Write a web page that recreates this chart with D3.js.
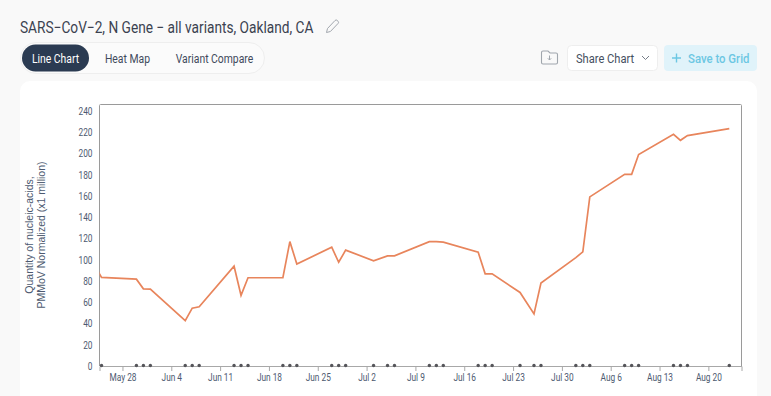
<!DOCTYPE html>
<html>
<head>
<meta charset="utf-8">
<script src="https://cdn.jsdelivr.net/npm/d3@7"></script>
<style>
  html, body { margin: 0; padding: 0; background: #f9f9f9; overflow: hidden; }
  svg { display: block; font-family: Roboto, sans-serif; }
  .axis text { font-family: Roboto, sans-serif; font-size: 10.5px; fill: #4d5a70; }
</style>
</head>
<body>
<div id="chart"></div>
<script>
const dates = ["05-24", "05-25", "05-30", "05-31", "06-01", "06-06", "06-07", "06-08", "06-13", "06-14", "06-15",
  "06-20", "06-21", "06-22", "06-27", "06-28", "06-29", "07-03", "07-05", "07-06", "07-11", "07-12", "07-13",
  "07-18", "07-19", "07-20", "07-24", "07-26", "07-27", "08-01", "08-02", "08-03", "08-08", "08-09", "08-10",
  "08-15", "08-16", "08-17", "08-23"];
const values = [95, 83.3, 81.7, 72.6, 72.4, 42.6, 54.4, 55.7, 93.9, 66.4, 83, 83, 117, 96, 111.7, 97.6, 109,
  99, 103.6, 103.6, 117, 117, 116.5, 107, 86.7, 86.7, 69.2, 49, 78, 102, 107.4, 159.1, 180.3, 180.3, 198.9,
  218, 212.3, 216.7, 223.3];
const yTicks = [0, 20, 40, 60, 80, 100, 120, 140, 160, 180, 200, 220, 240];
const tabs = ["Line Chart", "Heat Map", "Variant Compare"];

const parseDate = d3.timeParse("%Y-%m-%d");
const data = dates.map((d, i) => ({date: parseDate("2023-" + d), value: values[i]}));

const svgWidth = 771, svgHeight = 396;
const svg = d3.select("#chart").append("svg")
    .attr("width", svgWidth)
    .attr("height", svgHeight);

// the reference's font is narrower than Roboto at the same height
function condense(sel, k) {
    sel.each(function() {
        d3.select(this)
            .attr("textLength", this.getComputedTextLength() * k)
            .attr("lengthAdjust", "spacingAndGlyphs");
    });
}

// page chrome
svg.append("rect").attr("x", 20).attr("y", 81).attr("width", 737).attr("height", 340)
    .attr("rx", 10).attr("fill", "#fff");

svg.append("text").attr("x", 20).attr("y", 32.5)
    .attr("font-size", 16).attr("fill", "#3b4250")
    .text("SARS\u2212CoV\u22122, N Gene \u2212 all variants, Oakland, CA")
    .call(condense, 0.855);

// pencil
svg.append("path")
    .attr("d", "M326.5 32.5l1-4 7.5-8a1.6 1.6 0 0 1 2.3 0l.7.7a1.6 1.6 0 0 1 0 2.3l-7.6 8z")
    .attr("fill", "none").attr("stroke", "#a2a7ae").attr("stroke-width", 1);

// tabs
svg.append("rect").attr("x", 20.5).attr("y", 42.5).attr("width", 244).attr("height", 31)
    .attr("rx", 15.5).attr("fill", "#fbfbfb").attr("stroke", "#eeeeee");
svg.append("rect").attr("x", 22).attr("y", 44.5).attr("width", 67).attr("height", 27)
    .attr("rx", 13.5).attr("fill", "#2b3b52");
const tabX = [55.5, 127.5, 214.5];
svg.selectAll(".tab").data(tabs).join("text")
    .attr("class", "tab")
    .attr("x", (d, i) => tabX[i])
    .attr("y", 62.5)
    .attr("text-anchor", "middle")
    .attr("font-size", 12.5)
    .attr("fill", (d, i) => i === 0 ? "#fff" : "#3f4a5c")
    .text(d => d)
    .call(condense, 0.83);

// folder icon
svg.append("path")
    .attr("d", "M541.5 52.5a1.5 1.5 0 0 1 1.5-1.5h5l2 2h6a1.5 1.5 0 0 1 1.5 1.5v8a1.5 1.5 0 0 1-1.5 1.5h-13a1.5 1.5 0 0 1-1.5-1.5z")
    .attr("fill", "none").attr("stroke", "#a0a6ad").attr("stroke-width", 1.1);
svg.append("path")
    .attr("d", "M549.5 55.5v4.5m-1.7-1.7l1.7 1.7 1.7-1.7")
    .attr("fill", "none").attr("stroke", "#a0a6ad").attr("stroke-width", 1);

// share button
svg.append("rect").attr("x", 567.5).attr("y", 45.5).attr("width", 90).attr("height", 25)
    .attr("rx", 4).attr("fill", "#fff").attr("stroke", "#eeeeee");
svg.append("text").attr("x", 576).attr("y", 62.5)
    .attr("font-size", 12.5).attr("fill", "#454f60").text("Share Chart")
    .call(condense, 0.89);
svg.append("path").attr("d", "M642 56l3.5 3.5 3.5-3.5")
    .attr("fill", "none").attr("stroke", "#767d88").attr("stroke-width", 1);

// save button
svg.append("rect").attr("x", 664).attr("y", 45).attr("width", 93).attr("height", 26)
    .attr("rx", 4).attr("fill", "#e0f3fa");
svg.append("path").attr("d", "M672 58h9m-4.5-4.5v9")
    .attr("fill", "none").attr("stroke", "#6cc7e3").attr("stroke-width", 1.4);
svg.append("text").attr("x", 688).attr("y", 62.5)
    .attr("font-size", 12.5).attr("font-weight", 500).attr("fill", "#6cc7e3").text("Save to Grid")
    .call(condense, 0.91);

// plot area
const margin = {top: 104.5, right: 29.5, bottom: 30, left: 99.5},
      width = svgWidth - margin.left - margin.right,
      height = svgHeight - margin.top - margin.bottom;

const g = svg.append("g")
    .attr("transform", "translate(" + margin.left + "," + margin.top + ")");

const x = d3.scaleTime()
    .domain([new Date(2023, 4, 24, 17), new Date(2023, 7, 24, 18)])
    .range([0, width]);

const y = d3.scaleLinear()
    .domain([0, 246])
    .range([height, 0]);

svg.append("defs").append("clipPath").attr("id", "plot-clip")
    .append("rect").attr("width", width).attr("height", height + 3);

// frame
g.append("path")
    .attr("d", "M0 " + height + "V1a1 1 0 0 1 1-1H" + (width - 1) + "a1 1 0 0 1 1 1V" + height)
    .attr("fill", "none").attr("stroke", "#9a9a9a").attr("stroke-width", 1);

const xAxis = g.append("g")
    .attr("class", "axis")
    .attr("transform", "translate(0," + height + ")")
    .call(d3.axisBottom(x).ticks(d3.timeWeek.every(1)).tickFormat(d3.timeFormat("%b %-d")).tickSizeOuter(0).tickSize(5).tickPadding(3));
xAxis.selectAll("line, path").attr("stroke", "#a8a8a8");
xAxis.selectAll("text").call(condense, 0.79);

const yAxis = g.append("g")
    .attr("class", "axis")
    .call(d3.axisLeft(y).tickValues(yTicks).tickSize(0).tickPadding(7));
yAxis.select("path").remove();
yAxis.selectAll("text").call(condense, 0.79);

// y label
const yLabel = svg.append("text")
    .attr("transform", "translate(0,235) rotate(-90)")
    .attr("text-anchor", "middle")
    .attr("font-family", "Liberation Sans, Arial, sans-serif")
    .attr("font-size", 10.5)
    .attr("fill", "#4d5a70");
yLabel.append("tspan").attr("x", 0).attr("y", 33).text("Quantity of nucleic-acids,");
yLabel.append("tspan").attr("x", 0).attr("y", 45).text("PMMoV Normalized (x1 million)");

// line
g.append("path")
    .datum(data)
    .attr("clip-path", "url(#plot-clip)")
    .attr("fill", "none")
    .attr("stroke", "#e8855c")
    .attr("stroke-width", 1.7)
    .attr("d", d3.line()
        .x(d => x(d.date))
        .y(d => y(d.value)));

// sample markers along the baseline
g.append("g")
    .attr("clip-path", "url(#plot-clip)")
    .selectAll("circle")
    .data(data)
    .join("circle")
    .attr("cx", d => x(d.date))
    .attr("cy", y(0) - 0.5)
    .attr("r", 1.7)
    .attr("fill", "#55555a");
</script>
</body>
</html>
